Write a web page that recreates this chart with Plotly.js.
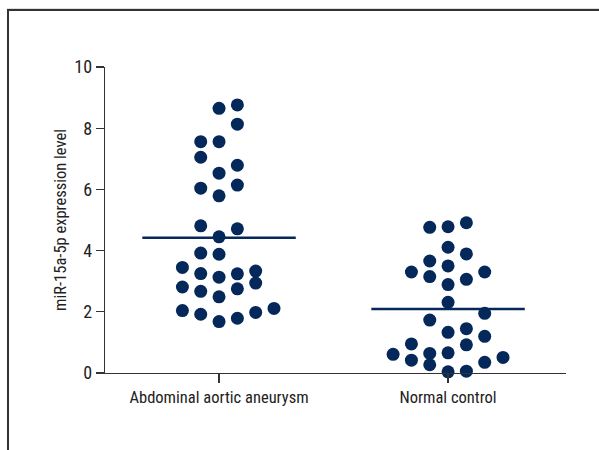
<!DOCTYPE html>
<html>
<head>
<meta charset="utf-8">
<script src="https://cdn.plot.ly/plotly-3.0.1.min.js"></script>
<style>
  html, body { margin: 0; padding: 0; background: #fff; }
  #frame { position: absolute; left: 7px; top: 9px; width: 700px; height: 600px;
           border-left: 2px solid #333; border-top: 2px solid #333;
           box-shadow: 0 -1px 0 #ddd; }
  #chart { position: absolute; left: 0; top: 0; width: 599px; height: 450px; }
</style>
</head>
<body>
<div id="frame"></div>
<div id="chart"></div>
<script>
// Categories and tick labels
var categories = ["Abdominal aortic aneurysm", "Normal control"];

// Abdominal aortic aneurysm group: values and beeswarm column index
var aaaValues = [8.65, 8.76, 8.13, 7.56, 7.56, 7.05, 6.79, 6.53, 6.04, 6.14, 5.79,
                 4.81, 4.71, 4.45, 3.92, 3.88, 3.45, 3.25, 3.13, 3.24, 3.33,
                 2.81, 2.67, 2.49, 2.75, 2.94, 2.04, 1.92, 1.68, 1.79, 1.98, 2.11];
var aaaColumns = [0, 1, 1, -1, 0, -1, 1, 0, -1, 1, 0,
                  -1, 1, 0, -1, 0, -2, -1, 0, 1, 2,
                  -2, -1, 0, 1, 2, -2, -1, 0, 1, 2, 3];

// Normal control group: values and beeswarm column index
var ncValues = [4.76, 4.78, 4.91, 4.11, 3.89, 3.66, 3.50, 3.30, 3.15, 3.30,
                2.89, 3.06, 2.31, 1.95, 1.73, 1.33, 1.45, 1.20, 0.95, 0.92,
                0.61, 0.42, 0.64, 0.66, 0.27, 0.35, 0.51, 0.04, 0.06];
var ncColumns = [-1, 0, 1, 0, 1, -1, 0, -2, -1, 2,
                 0, 1, 0, 2, -1, 0, 1, 2, -2, 1,
                 -3, -2, -1, 0, -1, 2, 3, 0, 1];

// Group means (horizontal lines)
var groupMeans = [4.42, 2.09];

var colStep = 0.08;
var halfLine = 0.335;
var navy = "#05285a";

function xs(center, cols) { return cols.map(function (c) { return center + c * colStep; }); }

var traces = [
  { type: "scatter", mode: "markers", x: xs(0, aaaColumns), y: aaaValues,
    marker: { color: navy, size: 13 }, cliponaxis: false, hoverinfo: "y" },
  { type: "scatter", mode: "markers", x: xs(1, ncColumns), y: ncValues,
    marker: { color: navy, size: 13 }, cliponaxis: false, hoverinfo: "y" }
];
groupMeans.forEach(function (m, i) {
  traces.push({ type: "scatter", mode: "lines", x: [i - halfLine, i + halfLine], y: [m, m],
                line: { color: navy, width: 2.5 }, cliponaxis: false, hoverinfo: "skip" });
});

var fontFam = "'Roboto Condensed', 'DejaVu Sans', sans-serif";

var layout = {
  width: 599, height: 450,
  margin: { l: 105, r: 33, t: 67, b: 77 },
  paper_bgcolor: "rgba(0,0,0,0)",
  plot_bgcolor: "rgba(0,0,0,0)",
  showlegend: false,
  font: { family: fontFam, color: "#222" },
  xaxis: {
    range: [-0.498, 1.515], tickvals: [0, 1], ticktext: categories,
    ticks: "outside", ticklen: 9, tickcolor: "#333", tickwidth: 1.2,
    showline: true, linecolor: "#333", linewidth: 1.3,
    showgrid: false, zeroline: false, fixedrange: true,
    tickfont: { size: 16.5, family: fontFam, color: "#222" }
  },
  yaxis: {
    range: [0, 10], dtick: 2, tick0: 0,
    ticks: "outside", ticklen: 8, tickcolor: "#333", tickwidth: 1.2,
    showline: true, linecolor: "#333", linewidth: 1.3,
    showgrid: false, zeroline: false, fixedrange: true,
    tickfont: { size: 18, family: fontFam, color: "#222" },
    title: { text: "miR-15a-5p expression level", standoff: 3,
             font: { size: 16.5, family: fontFam, color: "#222" } }
  }
};

Plotly.newPlot("chart", traces, layout, { displayModeBar: false, staticPlot: true });
</script>
</body>
</html>
